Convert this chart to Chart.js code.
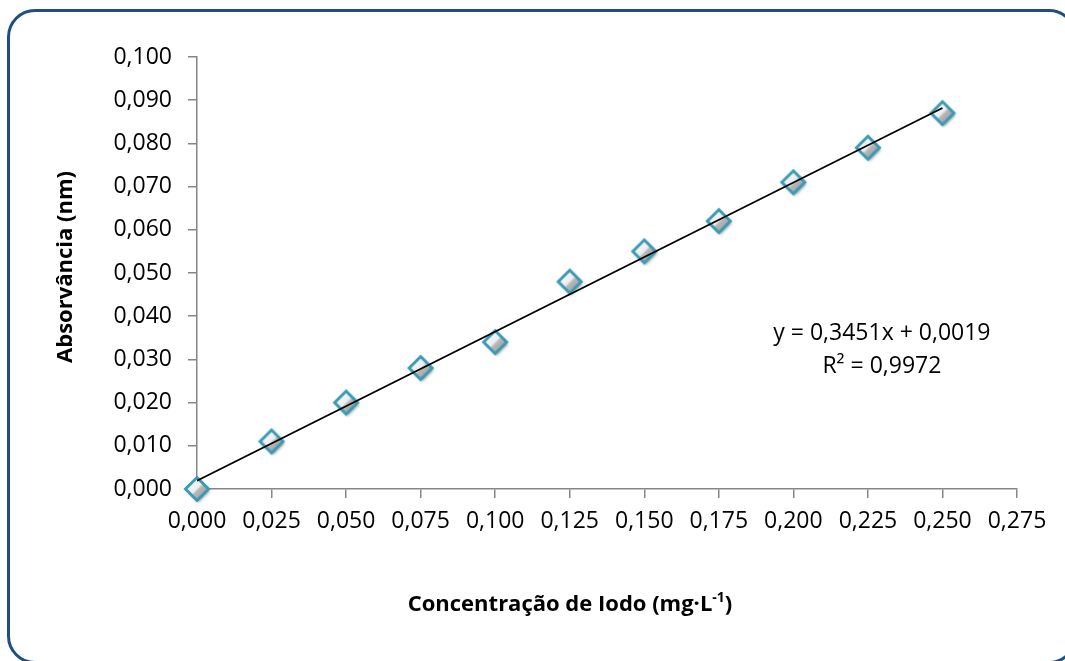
<!DOCTYPE html>
<html>
<head>
<meta charset="utf-8">
<script src="https://cdn.jsdelivr.net/npm/chart.js@4"></script>
<style>
  html, body { margin: 0; padding: 0; background: #fff; overflow: hidden; }
  #wrap { position: relative; width: 1065px; height: 661px; }
  #frame {
    position: absolute; left: 7px; top: 9px; width: 1070px; height: 655px;
    border: 3px solid #1f4e80; border-radius: 28px; box-sizing: border-box;
  }
  canvas { position: absolute; left: 0; top: 0; }
</style>
</head>
<body>
<div id="wrap">
  <div id="frame"></div>
  <canvas id="chart" width="1065" height="661"></canvas>
</div>
<script>
// data
const concentracao = [0, 0.025, 0.05, 0.075, 0.1, 0.125, 0.15, 0.175, 0.2, 0.225, 0.25];
const absorbancia = [0.000, 0.011, 0.020, 0.028, 0.034, 0.048, 0.055, 0.062, 0.071, 0.079, 0.087];

// linear trendline endpoints (y = 0,3451x + 0,0019)
const trendX = [0, 0.25];
const trendY = [0.0019, 0.0882];

const equationLines = ["y = 0,3451x + 0,0019", "R² = 0,9972"];

const xTitle = ["Concentração de Iodo (mg·L", "-1", ")"];
const yTitle = "Absorvância (nm)";

const FONT = "'Open Sans', 'Liberation Sans', sans-serif";
const axisGray = "#868686";

// diamond marker with teal edge and grey shading
function makeMarker() {
  const s = 34;
  const c = document.createElement("canvas");
  c.width = s;
  c.height = s;
  const g = c.getContext("2d");
  const m = s / 2, r = 11.5;
  const path = () => {
    g.beginPath();
    g.moveTo(m, m - r);
    g.lineTo(m + r, m);
    g.lineTo(m, m + r);
    g.lineTo(m - r, m);
    g.closePath();
  };
  g.save();
  g.shadowColor = "rgba(0,0,0,0.4)";
  g.shadowBlur = 3;
  g.shadowOffsetX = 1.5;
  g.shadowOffsetY = 2;
  path();
  g.fillStyle = "#fff";
  g.fill();
  g.restore();

  const grad = g.createLinearGradient(m - r, m - r, m + r, m + r);
  grad.addColorStop(0, "#ffffff");
  grad.addColorStop(0.48, "#eeeeee");
  grad.addColorStop(0.55, "#b8b8b8");
  grad.addColorStop(1, "#8c8c8c");
  path();
  g.fillStyle = grad;
  g.fill();
  g.lineWidth = 3;
  g.strokeStyle = "#3a9bb5";
  g.stroke();
  return c;
}

const marker = makeMarker();

const fmt = (v) => Number(v).toFixed(3).replace(".", ",");

const textPlugin = {
  id: "texts",
  afterDatasetsDraw(chart) {
    const { ctx, scales } = chart;
    ctx.save();
    ctx.fillStyle = "#000";

    // trendline equation
    const cx = scales.x.getPixelForValue(0.2297);
    const y1 = scales.y.getPixelForValue(0.0345);
    ctx.font = "23px " + FONT;
    ctx.textAlign = "center";
    ctx.textBaseline = "alphabetic";
    ctx.fillText(equationLines[0], cx, y1);
    ctx.fillText(equationLines[1], cx, y1 + 33);

    // y axis title
    const bold = "bold 22px " + FONT;
    ctx.save();
    ctx.translate(66, 267);
    ctx.rotate(-Math.PI / 2);
    ctx.font = bold;
    ctx.textAlign = "center";
    ctx.textBaseline = "middle";
    ctx.fillText(yTitle, 0, 0);
    ctx.restore();

    // x axis title with superscript
    const sup = "bold 14px " + FONT;
    ctx.font = bold;
    const w0 = ctx.measureText(xTitle[0]).width;
    const w2 = ctx.measureText(xTitle[2]).width;
    ctx.font = sup;
    const w1 = ctx.measureText(xTitle[1]).width;
    const total = w0 + w1 + w2;
    let x = 570 - total / 2;
    const base = 611;
    ctx.textAlign = "left";
    ctx.font = bold;
    ctx.fillText(xTitle[0], x, base);
    x += w0;
    ctx.font = sup;
    ctx.fillText(xTitle[1], x, base - 9);
    x += w1;
    ctx.font = bold;
    ctx.fillText(xTitle[2], x, base);
    ctx.restore();
  },
};

new Chart(document.getElementById("chart"), {
  type: "scatter",
  data: {
    datasets: [
      {
        label: "Tendência",
        data: trendX.map((x, i) => ({ x: x, y: trendY[i] })),
        showLine: true,
        borderColor: "#000",
        borderWidth: 1.8,
        pointRadius: 0,
        order: 0,
      },
      {
        label: "Absorvância",
        data: concentracao.map((x, i) => ({ x: x, y: absorbancia[i] })),
        pointStyle: marker,
        pointRadius: 13,
        clip: false,
        order: 1,
      },
    ],
  },
  options: {
    responsive: false,
    animation: false,
    events: [],
    layout: { padding: { top: 57, right: 48, bottom: 0, left: 0 } },
    plugins: {
      legend: { display: false },
      tooltip: { enabled: false },
    },
    scales: {
      x: {
        type: "linear",
        min: 0,
        max: 0.275,
        afterFit: (scale) => { scale.height = 172; },
        ticks: {
          stepSize: 0.025,
          color: "#000",
          font: { family: FONT, size: 23 },
          padding: 10,
          maxRotation: 0,
          callback: fmt,
        },
        grid: { drawOnChartArea: false, drawTicks: true, tickLength: 9, color: axisGray, lineWidth: 1.5 },
        border: { color: axisGray, width: 1.5 },
        title: { display: false },
      },
      y: {
        type: "linear",
        min: 0,
        max: 0.1,
        afterFit: (scale) => { scale.width = 197; },
        ticks: {
          stepSize: 0.01,
          color: "#000",
          font: { family: FONT, size: 23 },
          padding: 16,
          callback: fmt,
        },
        grid: { drawOnChartArea: false, drawTicks: true, tickLength: 9, color: axisGray, lineWidth: 1.5 },
        border: { color: axisGray, width: 1.5 },
        title: { display: false },
      },
    },
  },
  plugins: [textPlugin],
});
</script>
</body>
</html>
